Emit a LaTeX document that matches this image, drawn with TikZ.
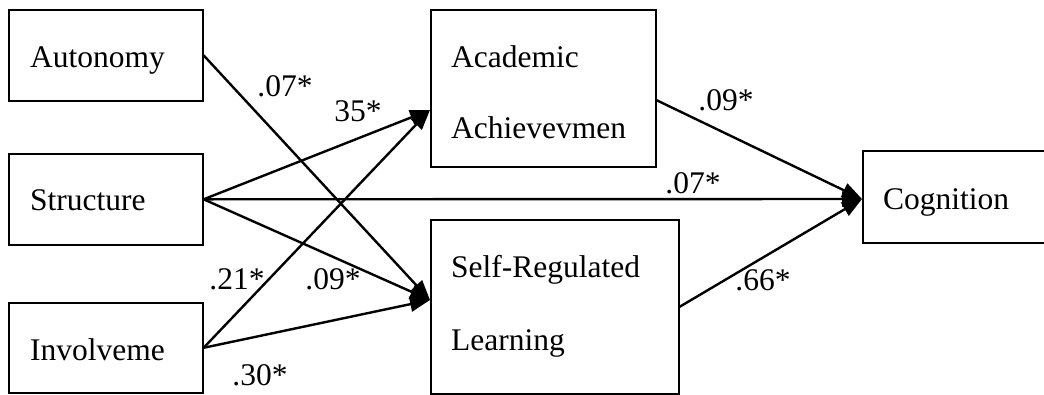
\documentclass[tikz,border=0pt]{standalone}
\usepackage{fontspec}
\setmainfont{Liberation Serif}
\usetikzlibrary{arrows.meta}
\begin{document}
\begin{tikzpicture}[x=1pt,y=-1pt,
  box/.style={draw,line width=1.6pt,inner sep=0pt,anchor=north west},
  txt/.style={anchor=base west,inner sep=0pt,font=\fontsize{31.5}{38}\selectfont},
  coef/.style={anchor=base,inner sep=0pt,font=\fontsize{31.5}{38}\selectfont},
  effect/.style={line width=2.4pt,-{Triangle[length=20pt,width=15pt]}}]
\useasboundingbox (0,0) rectangle (1044,394);
\clip (0,0) rectangle (1044,394);

% variable boxes
\node[box,minimum width=194pt,minimum height=91pt] (autonomy) at (8,9) {};
\node[box,minimum width=194pt,minimum height=91pt] (structure) at (8,153) {};
\node[box,minimum width=194pt,minimum height=90pt] (involve) at (8,302) {};
\node[box,minimum width=225pt,minimum height=157pt] (acad) at (430,9) {};
\node[box,minimum width=248pt,minimum height=174pt] (srl) at (430,219) {};
\node[box,minimum width=200pt,minimum height=92pt] (cog) at (862,150) {};

% box labels
\node[txt] (tAut) at (30,67) {Autonomy};
\node[txt] (tStr) at (30,210) {Structure};
\node[txt] (tInv) at (30,360) {Involveme};
\node[txt] (tAca1) at (451,67) {Academic};
\node[txt] (tAca2) at (451,138) {Achievevmen};
\node[txt] (tSrl1) at (451,277) {Self-Regulated};
\node[txt] (tSrl2) at (451,350) {Learning};
\node[txt] (tCog) at (883,209) {Cognition};

% arrow entry points
\coordinate (acadIn) at (430,110);
\coordinate (srlIn) at (430,300);
\coordinate (cogIn) at (862,199);

% paths
\draw[effect] (autonomy.east) -- (srlIn);
\draw[effect] (structure.east) -- (acadIn);
\draw[effect] (involve.east) -- (acadIn);
\draw[effect] (structure.east) -- (srlIn);
\draw[effect] (involve.east) -- (srlIn);
\draw[effect] (structure.east) -- (cogIn);
\draw[effect] (acad.-6.3) -- (cogIn);
\draw[effect] (srl.east) -- (cogIn);

% path coefficients
\node[coef] (c1) at (285,96) {.07*};
\node[coef] (c2) at (358,121) {35*};
\node[coef] (c3) at (237,289) {.21*};
\node[coef] (c4) at (333,289) {.09*};
\node[coef] (c5) at (260,385) {.30*};
\node[coef] (c6) at (726,110) {.09*};
\node[coef] (c7) at (693,193) {.07*};
\node[coef] (c8) at (763,290) {.66*};
\end{tikzpicture}
\end{document}
